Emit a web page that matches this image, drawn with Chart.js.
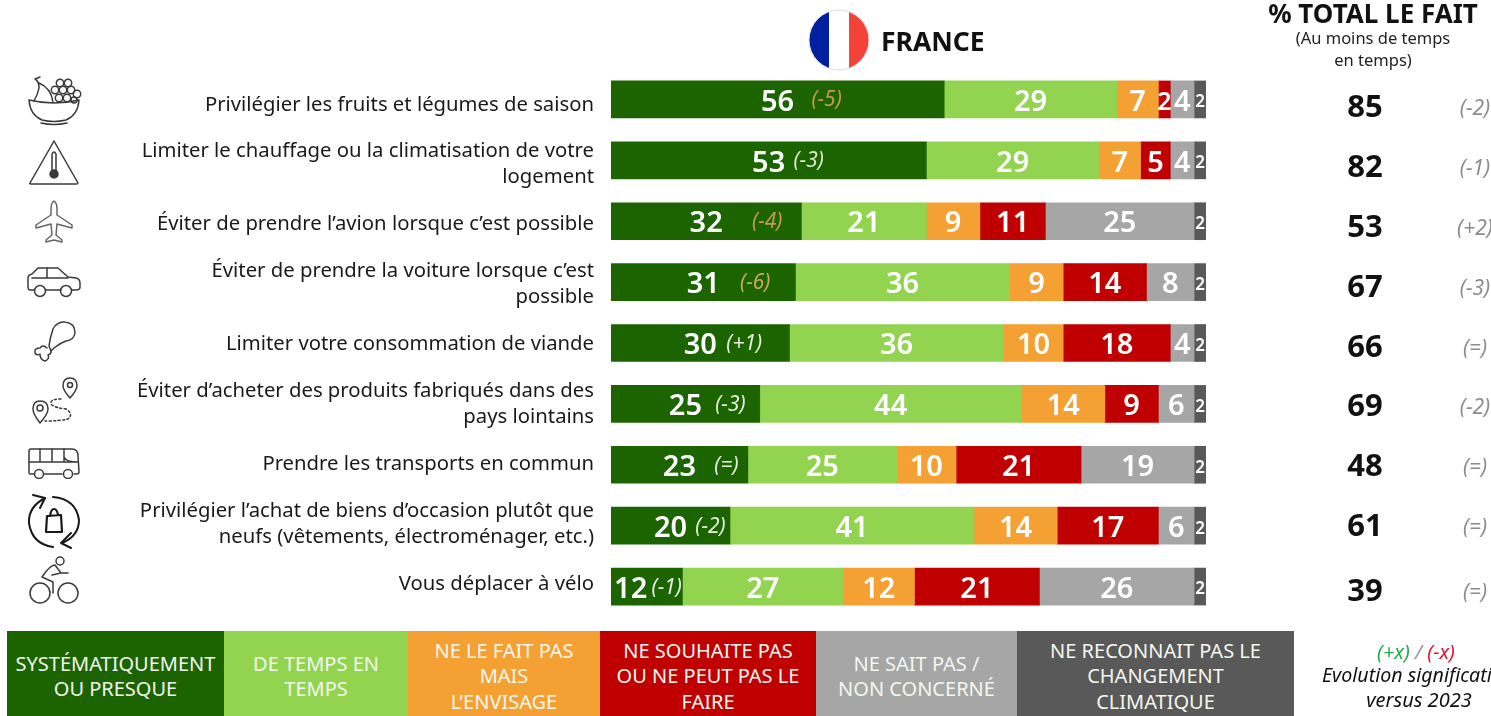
<!DOCTYPE html>
<html lang="fr">
<head>
<meta charset="utf-8">
<title>France - % total le fait</title>
<script src="https://cdn.jsdelivr.net/npm/chart.js@4"></script>
<style>
    html, body { margin: 0; padding: 0; background: #fff; width: 1491px; height: 716px; overflow: hidden; font-family: "Noto Sans", sans-serif; }
    #wrap { position: relative; width: 1491px; height: 716px; overflow: hidden; }
    #chart { position: absolute; left: 0; top: 0; }
    .abs { position: absolute; white-space: nowrap; text-align: center; }
    .cell { position: absolute; top: 631px; height: 85px; box-sizing: border-box; padding-top: 5px; display: flex; align-items: center; justify-content: center; text-align: center; color: #f4f7ef; font-size: 20px; line-height: 25.5px; font-family: "Noto Sans", sans-serif; }
    svg.icon { position: absolute; fill: none; stroke: #3a3a3a; stroke-width: 1.5; stroke-linecap: round; stroke-linejoin: round; }
</style>
</head>
<body>
<div id="wrap">
    <canvas id="chart" width="1491" height="716"></canvas>

    <svg style="position:absolute;left:808px;top:9px" width="62" height="62" viewBox="0 0 62 62">
        <defs><clipPath id="flag"><circle cx="31" cy="31" r="30"/></clipPath></defs>
        <g clip-path="url(#flag)">
            <rect x="0" y="0" width="21" height="62" fill="#00209f"/>
            <rect x="21" y="0" width="20" height="62" fill="#ffffff"/>
            <rect x="41" y="0" width="21" height="62" fill="#f44336"/>
        </g>
        <circle cx="31" cy="31" r="30" fill="none" stroke="#ddd" stroke-width="1"/>
    </svg>
    <div class="abs" style="left:881px;top:23px;font-size:26.5px;font-weight:700;color:#111;line-height:36px">FRANCE</div>

    <div class="abs" style="left:1238px;width:270px;top:-4px;font-size:26px;font-weight:700;color:#111;line-height:34px">% TOTAL LE FAIT</div>
    <div class="abs" style="left:1263px;width:220px;top:27px;font-size:16.5px;color:#222;line-height:22px">(Au moins de temps<br>en temps)</div>

    <div class="abs" style="left:1316px;width:200px;top:639px;font-size:20px;font-style:italic;line-height:26px"><span style="color:#1fae4b">(+x)</span> <span style="color:#999">/</span> <span style="color:#e8112d">(-x)</span></div>
    <div class="abs" style="left:1322px;top:662px;font-size:19.6px;font-style:italic;color:#111;line-height:26px">Evolution significative</div>
    <div class="abs" style="left:1319px;width:200px;top:687px;font-size:20px;font-style:italic;color:#111;line-height:26px">versus 2023</div>

    <!-- fruits -->
    <svg class="icon" style="left:26px;top:74px" width="56" height="52" viewBox="0 0 56 52">
        <path d="M3 26 Q28 32 53 26 Q52 41 40 46 Q28 49 16 46 Q4 41 3 26Z"/>
        <path d="M15 49 Q28 52 41 49"/>
        <path d="M9 5 Q13 7 13 14 Q12 20 8 27 M13 9 Q25 14 27 28 M9 5 L14 3"/>
        <circle cx="34" cy="9" r="3.7"/><circle cx="42" cy="9" r="3.7"/>
        <circle cx="29" cy="16" r="3.7"/><circle cx="37" cy="16" r="3.7"/><circle cx="45" cy="16" r="3.7"/><circle cx="51" cy="20" r="3.7"/>
        <circle cx="33" cy="24" r="3.7"/><circle cx="41" cy="24" r="3.7"/><circle cx="48" cy="26" r="3"/>
    </svg>
    <!-- warning thermometer -->
    <svg class="icon" style="left:26px;top:138px" width="56" height="50" viewBox="0 0 56 50">
        <path d="M28 3 L52 45 Q52 46 50 46 L5 46 Q3 46 4 45 Z"/>
        <path d="M26 16 L26 33 M30 16 L30 33 M26 16 Q28 12 30 16"/>
        <circle cx="28" cy="36" r="4" fill="#3a3a3a"/>
    </svg>
    <!-- plane -->
    <svg class="icon" style="left:34px;top:199px;stroke:#666" width="40" height="44" viewBox="0 0 40 44">
        <path d="M20 2 Q23 4 23 10 L23 16 L38 26 L38 29 L23 25 L22 36 L28 41 L28 43 L20 41 L12 43 L12 41 L18 36 L17 25 L2 29 L2 26 L17 16 L17 10 Q17 4 20 2Z"/>
    </svg>
    <!-- car -->
    <svg class="icon" style="left:26px;top:266px" width="56" height="32" viewBox="0 0 56 32">
        <path d="M8 24 L4 24 Q2 24 2 20 L2 12 Q2 9 6 8 L12 2 L32 2 L42 11 L50 12 Q54 13 54 17 L54 21 Q54 24 50 24 L46 24 M35 24 L20 24"/>
        <circle cx="14" cy="25" r="5.5"/><circle cx="40" cy="25" r="5.5"/>
        <path d="M21 2 L21 12 M6 12 L42 12"/>
    </svg>
    <!-- drumstick -->
    <svg class="icon" style="left:32px;top:320px" width="46" height="46" viewBox="0 0 46 46">
        <path d="M17 26 Q18 18 21 9 Q25 1 33 2 Q43 3 43 13 Q42 20 34 21 Q28 23 22 28 L19 31 Z"/>
        <path d="M15 28 Q11 24 8 28 Q2 28 3 33 Q5 36 8 34 Q8 40 13 41 Q18 39 16 35 Q20 33 19 31"/>
    </svg>
    <!-- route -->
    <svg class="icon" style="left:30px;top:376px" width="50" height="50" viewBox="0 0 50 50">
        <path d="M40 2 Q47 2 47 10 Q47 14 40 22 Q33 14 33 10 Q33 2 40 2Z"/><circle cx="40" cy="9" r="2.5"/>
        <path d="M10 25 Q18 25 18 33 Q18 38 10 47 Q3 38 3 33 Q3 25 10 25Z"/><circle cx="10" cy="32" r="3"/>
        <path d="M31 23 Q18 23 22 29 Q26 32 36 33 Q44 38 38 43 Q30 45 15 45" stroke-dasharray="2 2.5"/>
    </svg>
    <!-- bus -->
    <svg class="icon" style="left:26px;top:447px" width="56" height="32" viewBox="0 0 56 32">
        <path d="M8 27 L4 27 Q3 27 3 25 L3 4 Q3 2 5 2 L46 2 Q52 2 52 9 L53 25 Q53 27 50 27 L48 27 M36 27 L18 27"/>
        <circle cx="13" cy="27" r="4.5"/><circle cx="42" cy="27" r="4.5"/>
        <path d="M3 15 L52 15 M14 2 L14 15 M26 2 L26 15 M38 2 L38 15 M38 10 Q40 15 52 15"/>
    </svg>
    <!-- recycle bag -->
    <svg class="icon" style="left:26px;top:494px;stroke:#1a1a1a;stroke-width:2" width="56" height="56" viewBox="0 0 56 56">
        <path d="M27 53 Q6 50 3 29 Q2 13 19 4"/>
        <path d="M7 1 L19 4 L14 14"/>
        <path d="M27 3 Q50 5 53 26 Q53 42 36 49"/>
        <path d="M45 39 L35 49 L45 54"/>
        <path d="M21 22 L35 21 L36 38 L20 38 Z M24 22 Q25 15 28 15 Q31 15 32 21" stroke-width="2.2"/>
    </svg>
    <!-- bicycle -->
    <svg class="icon" style="left:28px;top:556px" width="52" height="50" viewBox="0 0 52 50">
        <circle cx="12" cy="37" r="10"/><circle cx="40" cy="37" r="10"/>
        <circle cx="32" cy="5" r="4"/>
        <path d="M40 17 L33 17 L27 9 Q22 9 14 21 L25 26 L25 37 M33 17 L24 19"/>
    </svg>
</div>

<script>
// valeurs, en %
const themes = [
    ['Privilégier les fruits et légumes de saison'],
    ['Limiter le chauffage ou la climatisation de votre', 'logement'],
    ['Éviter de prendre l’avion lorsque c’est possible'],
    ['Éviter de prendre la voiture lorsque c’est', 'possible'],
    ['Limiter votre consommation de viande'],
    ['Éviter d’acheter des produits fabriqués dans des', 'pays lointains'],
    ['Prendre les transports en commun'],
    ['Privilégier l’achat de biens d’occasion plutôt que', 'neufs (vêtements, électroménager, etc.)'],
    ['Vous déplacer à vélo']
];

const seriesNames = [
    ['SYSTÉMATIQUEMENT', 'OU PRESQUE'],
    ['DE TEMPS EN', 'TEMPS'],
    ['NE LE FAIT PAS', 'MAIS', 'L’ENVISAGE'],
    ['NE SOUHAITE PAS', 'OU NE PEUT PAS LE', 'FAIRE'],
    ['NE SAIT PAS /', 'NON CONCERNÉ'],
    ['NE RECONNAIT PAS LE', 'CHANGEMENT', 'CLIMATIQUE']
];

const systematique = [56, 53, 32, 31, 30, 25, 23, 20, 12];
const deTemps = [29, 29, 21, 36, 36, 44, 25, 41, 27];
const envisage = [7, 7, 9, 9, 10, 14, 10, 14, 12];
const neSouhaite = [2, 5, 11, 14, 18, 9, 21, 17, 21];
const neSaitPas = [4, 4, 25, 8, 4, 6, 19, 6, 26];
const neReconnait = [2, 2, 2, 2, 2, 2, 2, 2, 2];

const evolutions = ['(-5)', '(-3)', '(-4)', '(-6)', '(+1)', '(-3)', '(=)', '(-2)', '(-1)'];
const totals = [85, 82, 53, 67, 66, 69, 48, 61, 39];
const totalEvolutions = ['(-2)', '(-1)', '(+2)', '(-3)', '(=)', '(-2)', '(=)', '(=)', '(=)'];

const colors = ['#1c6400', '#92d450', '#f5a033', '#c00000', '#a6a6a6', '#595959'];
const legendEdges = [7, 224, 408, 600, 816, 1017, 1294];

// reglages de placement des textes, pas des donnees
const evolutionOffsets = [49, 40, 61, 52, 44, 45, 47, 40, 20];
const evolutionColors = ['#c9984f', '#dbe8d0', '#c9984f', '#c9a860', '#e6efe0', '#e6efe0', '#e6efe0', '#e6efe0', '#e6efe0'];
const themeRowY = [105, 164, 224, 284, 344, 404.5, 464, 524.5, 584];
const totalRowY = [108, 168, 228, 288, 348, 407, 467, 527, 592];

const seriesValues = [systematique, deTemps, envisage, neSouhaite, neSaitPas, neReconnait];

const wrap = document.getElementById('wrap');
seriesNames.forEach((name, i) => {
    const cell = document.createElement('div');
    cell.className = 'cell';
    cell.style.left = legendEdges[i] + 'px';
    cell.style.width = (legendEdges[i + 1] - legendEdges[i]) + 'px';
    cell.style.background = colors[i];
    cell.innerHTML = '<div>' + name.join('<br>') + '</div>';
    wrap.appendChild(cell);
});

const segmentLabels = {
    id: 'segmentLabels',
    afterDatasetsDraw(chart) {
        const ctx = chart.ctx;
        ctx.save();
        ctx.textAlign = 'center';
        ctx.textBaseline = 'middle';
        chart.data.datasets.forEach((dataset, d) => {
            chart.getDatasetMeta(d).data.forEach((bar, i) => {
                const center = bar.getCenterPoint();
                const isLast = d === 5;
                // le 12 de la derniere ligne est decale pour laisser la place au (-1)
                const shift = (d === 0 && i === 8) ? -16 : 0;
                ctx.fillStyle = '#fff';
                ctx.font = (isLast ? '600 17px' : '600 29px') + ' "Noto Sans", sans-serif';
                if (!isLast && dataset.data[i] <= 2) ctx.font = '600 25px "Noto Sans", sans-serif';
                ctx.fillText(dataset.data[i], center.x + shift, center.y + 3);
                if (d === 0) {
                    ctx.font = 'italic 400 21px "Noto Sans", sans-serif';
                    ctx.fillStyle = evolutionColors[i];
                    ctx.fillText(evolutions[i], center.x + evolutionOffsets[i], center.y + 1);
                }
            });
        });

        // libelles a gauche
        ctx.textAlign = 'right';
        ctx.font = '400 20.3px "Noto Sans", sans-serif';
        ctx.fillStyle = '#1a1a1a';
        chart.data.labels.forEach((lines, i) => {
            lines.forEach((line, l) => {
                ctx.fillText(line, 594, themeRowY[i] + (l - (lines.length - 1) / 2) * 26);
            });
        });

        // colonne de droite
        ctx.textAlign = 'center';
        totals.forEach((total, i) => {
            ctx.font = '700 31px "Noto Sans", sans-serif';
            ctx.fillStyle = '#111';
            ctx.fillText(total, 1365, totalRowY[i]);
            ctx.font = 'italic 400 21px "Noto Sans", sans-serif';
            ctx.fillStyle = '#8c8c8c';
            ctx.fillText(totalEvolutions[i], 1475, totalRowY[i] + 1);
        });
        ctx.restore();
    }
};

new Chart(document.getElementById('chart'), {
    type: 'bar',
    data: {
        labels: themes,
        datasets: seriesValues.map((values, i) => ({
            label: seriesNames[i].join(' '),
            data: values,
            backgroundColor: colors[i],
            borderWidth: 0,
            barThickness: 37
        }))
    },
    options: {
        indexAxis: 'y',
        responsive: false,
        animation: false,
        layout: { padding: { top: 69, bottom: 99, left: 0, right: 285 } },
        plugins: {
            legend: { display: false },
            tooltip: { enabled: false }
        },
        scales: {
            x: { stacked: true, min: 0, max: 100, display: false },
            y: {
                stacked: true,
                grid: { display: false, drawTicks: false },
                border: { display: false },
                ticks: { display: false },
                afterFit(scale) { scale.width = 611; }
            }
        }
    },
    plugins: [segmentLabels]
});
</script>
</body>
</html>
